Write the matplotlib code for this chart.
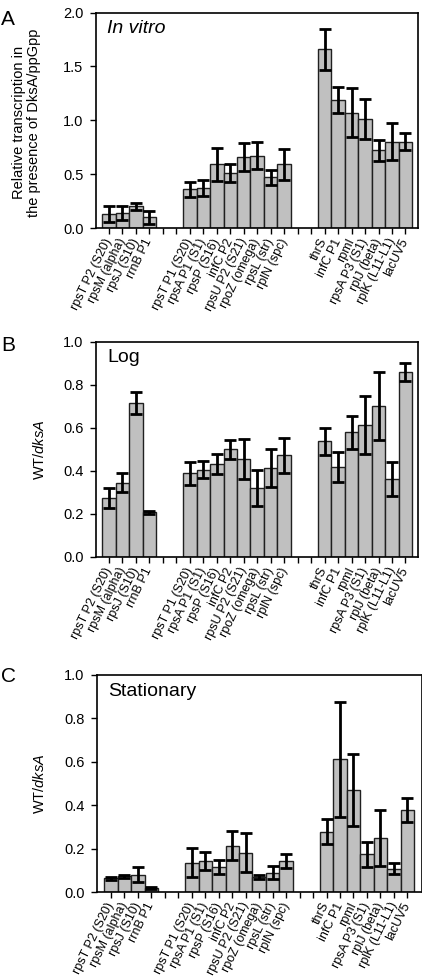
import matplotlib
matplotlib.use("Agg")
import matplotlib.pyplot as plt
import numpy as np

plt.rcParams['font.family'] = ['Liberation Sans', 'DejaVu Sans']
plt.rcParams['mathtext.fontset'] = 'custom'
plt.rcParams['mathtext.rm'] = 'Liberation Sans'
plt.rcParams['mathtext.it'] = 'Liberation Sans:italic'

# categories (empty strings are gaps between groups)
labels = ["rpsT P2 (S20)", "rpsM (alpha)", "rpsJ (S10)", "rrnB P1", "", "",
          "rpsT P1 (S20)", "rpsA P1 (S1)", "rpsP (S16)", "infC P2", "rpsU P2 (S21)",
          "rpoZ (omega)", "rpsL (str)", "rplN (spc)", "", "",
          "thrS", "infC P1", "rpmI", "rpsA P3 (S1)", "rplJ (beta)", "rplK (L11-L1)", "lacUV5"]

# Panel A: in vitro
a_vals = [0.13, 0.14, 0.20, 0.10, None, None,
          0.36, 0.37, 0.59, 0.51, 0.66, 0.67, 0.47, 0.59, None, None,
          1.66, 1.19, 1.07, 1.01, 0.72, 0.80, 0.80]
a_err = [0.07, 0.065, 0.03, 0.06, None, None,
         0.07, 0.075, 0.15, 0.08, 0.13, 0.125, 0.07, 0.145, None, None,
         0.19, 0.12, 0.23, 0.185, 0.10, 0.17, 0.08]

# Panel B: log
b_vals = [0.275, 0.345, 0.715, 0.207, None, None,
          0.388, 0.406, 0.431, 0.50, 0.457, 0.32, 0.414, 0.472, None, None,
          0.537, 0.417, 0.58, 0.612, 0.70, 0.362, 0.86]
b_err = [0.046, 0.043, 0.052, 0.008, None, None,
         0.055, 0.038, 0.046, 0.044, 0.093, 0.084, 0.088, 0.08, None, None,
         0.062, 0.07, 0.077, 0.134, 0.157, 0.078, 0.043]

# Panel C: stationary
c_vals = [0.063, 0.072, 0.080, 0.020, None, None,
          0.135, 0.143, 0.114, 0.214, 0.182, 0.069, 0.088, 0.143, None, None,
          0.277, 0.612, 0.471, 0.174, 0.249, 0.108, 0.378]
c_err = [0.006, 0.008, 0.033, 0.004, None, None,
         0.066, 0.042, 0.033, 0.065, 0.09, 0.01, 0.03, 0.032, None, None,
         0.058, 0.265, 0.167, 0.057, 0.127, 0.027, 0.057]

W, H = 422, 976
fig = plt.figure(figsize=(W / 100, H / 100), dpi=100)

def px_axes(l, t, r, b):
    return fig.add_axes([l / W, 1 - b / H, (r - l) / W, (b - t) / H])

panels = [
    dict(box=(96, 12.5, 418, 228), vals=a_vals, err=a_err, ylim=(0, 2.0),
         yticks=[0.0, 0.5, 1.0, 1.5, 2.0], xlim=(-0.96, 22.93),
         ylabel="Relative transcription in\nthe presence of DksA/ppGpp",
         ylab_x=41, ylab_y=0.49, title="In vitro", tstyle='italic',
         letter="A", letter_y=10),
    dict(box=(96, 341.7, 418, 557), vals=b_vals, err=b_err, ylim=(0, 1.0),
         yticks=[0.0, 0.2, 0.4, 0.6, 0.8, 1.0], xlim=(-0.96, 22.93),
         ylabel="WT/$\\mathit{dksA}$", ylab_x=47, ylab_y=0.5, title="Log",
         tstyle='normal', letter="B", letter_y=336),
    dict(box=(97, 675, 421.5, 892), vals=c_vals, err=c_err, ylim=(0, 1.0),
         yticks=[0.0, 0.2, 0.4, 0.6, 0.8, 1.0], xlim=(-1.04, 23.05),
         ylabel="WT/$\\mathit{dksA}$", ylab_x=47.5, ylab_y=0.5, title="Stationary",
         tstyle='normal', letter="C", letter_y=667),
]

x = np.arange(len(labels))
for p in panels:
    ax = px_axes(*p['box'])
    idx = [i for i, v in enumerate(p['vals']) if v is not None]
    xs = x[idx]
    vs = [p['vals'][i] for i in idx]
    es = [p['err'][i] for i in idx]
    ax.bar(xs, vs, width=1.0, color='#c0c0c0', edgecolor='#202020',
           linewidth=1.0, zorder=2)
    ax.errorbar(xs, vs, yerr=es, fmt='none', ecolor='black', elinewidth=2.0,
                capsize=4.2, capthick=2.0, zorder=3)
    ax.set_xlim(*p['xlim'])
    ax.set_ylim(*p['ylim'])
    ax.set_yticks(p['yticks'])
    ax.set_yticklabels([f"{t:.1f}" for t in p['yticks']], fontsize=10.5)
    ax.set_xticks(x)
    ax.set_xticklabels(labels, rotation=64, ha='right', va='center',
                       rotation_mode='anchor', fontsize=9)
    ax.tick_params(axis='both', direction='out', length=4, width=1.0,
                   color='black')
    ax.tick_params(axis='y', pad=5)
    ax.tick_params(axis='x', pad=4)
    for s in ax.spines.values():
        s.set_linewidth(1.2)
        s.set_color('black')
    ax.set_ylabel(p['ylabel'], fontsize=10.5, linespacing=1.05)
    l, t, r, b = p['box']
    ax.yaxis.set_label_coords((p['ylab_x'] - l) / (r - l), p['ylab_y'])
    ax.text(0.035, 0.965, p['title'], transform=ax.transAxes, fontsize=14,
            style=p['tstyle'], ha='left', va='top')
    fig.text(1 / W, 1 - p['letter_y'] / H, p['letter'], fontsize=15,
             ha='left', va='top')

fig.savefig("out.png", dpi=100)
